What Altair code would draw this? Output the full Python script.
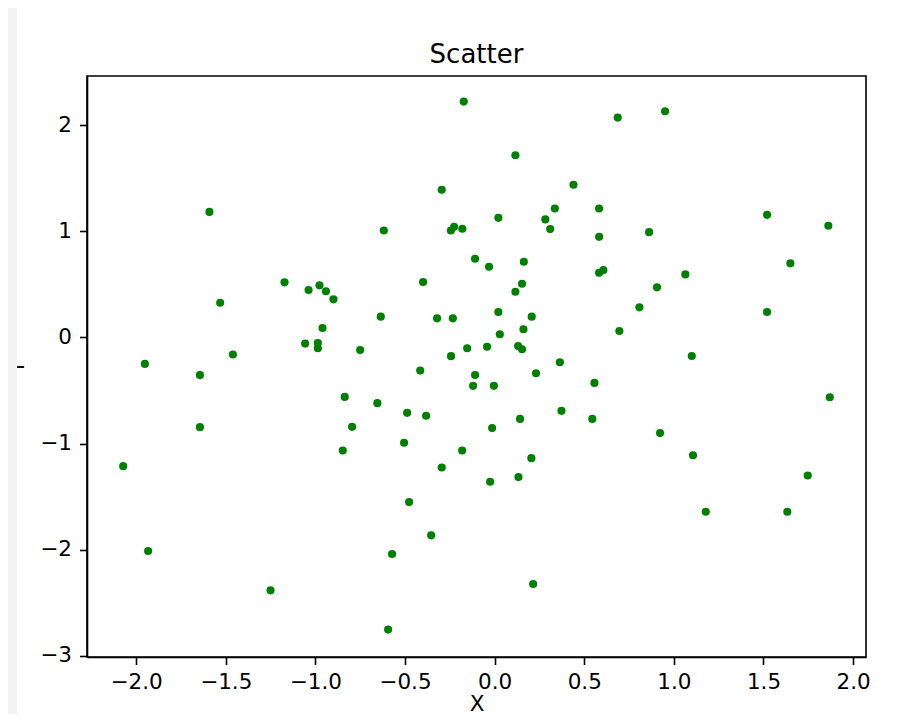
import altair as alt
import pandas as pd

xs = [-1.591, -1.172, -1.531, -1.460, -1.951, -1.644, -1.644, -2.072, -1.933, -1.250,
      -0.172, 0.116, -0.295, 0.440, 0.336, 0.283, 0.310, 0.021, -0.618, -0.244,
      -0.226, -0.180, -0.109, -0.031, 0.163, 0.153, 0.116, -1.038, -0.977, -0.941,
      -0.899, -0.399, -0.635, -0.321, -0.233, 0.021, 0.207, 0.161, 0.029, -0.960,
      -1.057, -0.986, -0.986, -0.750, -0.243, -0.153, -0.042, 0.131, 0.153, 0.364,
      -0.415, -0.109, -0.120, -0.004, 0.231, -0.836, -0.654, -0.488, -0.382, 0.142,
      0.373, -0.014, -0.795, -0.847, -0.505, -0.181, 0.205, -0.295, -0.025, 0.133,
      -0.477, -0.354, -0.572, 0.215, -0.594, 0.687, 0.951, 0.583, 0.583, 0.862,
      1.520, 1.862, 1.650, 0.583, 0.607, 1.064, 0.906, 0.808, 1.520, 0.696,
      1.100, 0.557, 0.545, 0.923, 1.870, 1.107, 1.747, 1.178, 1.633]
ys = [1.183, 0.519, 0.327, -0.160, -0.249, -0.353, -0.845, -1.212, -2.012, -2.382,
      2.222, 1.717, 1.391, 1.438, 1.215, 1.112, 1.021, 1.127, 1.008, 1.008,
      1.042, 1.024, 0.741, 0.666, 0.713, 0.506, 0.431, 0.447, 0.491, 0.435,
      0.359, 0.522, 0.196, 0.180, 0.180, 0.240, 0.196, 0.077, 0.030, 0.089,
      -0.058, -0.052, -0.102, -0.118, -0.176, -0.102, -0.087, -0.080, -0.111, -0.234,
      -0.312, -0.353, -0.456, -0.456, -0.337, -0.560, -0.619, -0.710, -0.738, -0.767,
      -0.691, -0.854, -0.842, -1.065, -0.992, -1.065, -1.137, -1.225, -1.359, -1.315,
      -1.551, -1.864, -2.040, -2.322, -2.752, 2.071, 2.131, 1.215, 0.948, 0.992,
      1.155, 1.052, 0.698, 0.610, 0.635, 0.594, 0.472, 0.284, 0.240, 0.061,
      -0.175, -0.428, -0.767, -0.901, -0.563, -1.109, -1.300, -1.642, -1.642]

x_ticks = [-2.0, -1.5, -1.0, -0.5, 0.0, 0.5, 1.0, 1.5, 2.0]
y_ticks = [-3, -2, -1, 0, 1, 2]

df = pd.DataFrame({"x": xs, "y": ys})

FONT = "DejaVu Sans"
axis_common = dict(
    grid=False, domainColor="black", domainWidth=1.6, tickColor="black",
    tickWidth=1.6, tickSize=7.5, labelColor="black", labelFont=FONT,
    labelFontSize=21.5, titleFont=FONT, titleFontSize=21.5,
    titleFontWeight="normal", titleColor="black",
)

points = alt.Chart(df).mark_circle(size=66, color="#008000", opacity=1).encode(
    x=alt.X("x:Q", scale=alt.Scale(domain=[-2.274, 2.072], nice=False, zero=False),
            axis=alt.Axis(values=x_ticks, format=".1f", title="X", labelPadding=7,
                          titlePadding=0, **axis_common)),
    y=alt.Y("y:Q", scale=alt.Scale(domain=[-3.01, 2.463], nice=False, zero=False),
            axis=alt.Axis(values=y_ticks, format="d", title="Y", labelPadding=8,
                          titlePadding=11, **axis_common)),
)

# light grey page strip at the far left (as in the reference screenshot)
strip = alt.Chart(alt.Data(values=[{"a": 1}])).mark_rect(color="#f3f3f3", clip=False).encode(
    x=alt.value(-79), x2=alt.value(-70), y=alt.value(-68), y2=alt.value(640)
)

chart = alt.layer(points, strip).properties(
    width=779, height=581,
    padding={"left": 79, "top": 68, "right": 30, "bottom": 57},
    autosize=alt.AutoSizeParams(type="none"),
    title=alt.TitleParams("Scatter", font=FONT, fontSize=26, fontWeight="normal",
                          color="black", baseline="alphabetic", offset=-81,
                          anchor="middle", frame="group"),
).configure(
    background="white",
    view=alt.ViewConfig(stroke="black", strokeWidth=1.6),
)

chart.save("out.html", embed_options={"renderer": "svg", "actions": False})
